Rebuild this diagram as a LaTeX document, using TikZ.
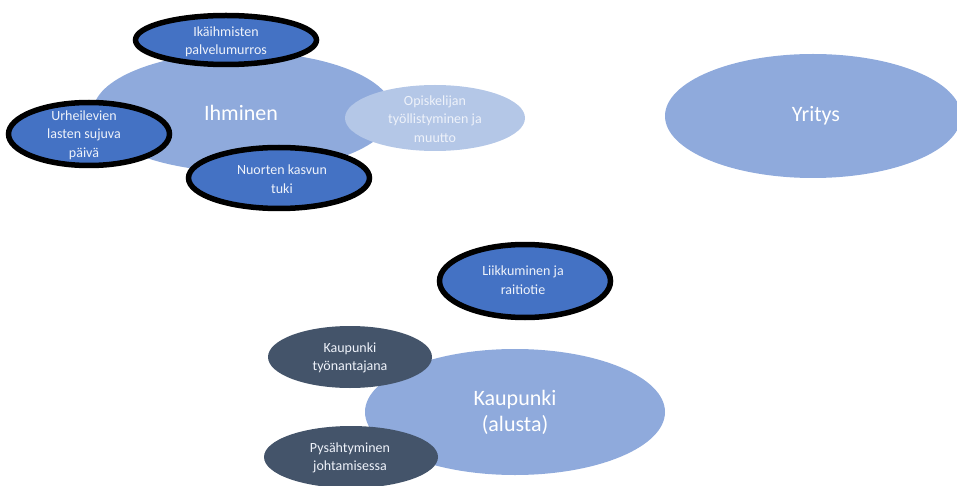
\documentclass[tikz,border=0pt]{standalone}
\usepackage{fontspec}
\setmainfont{Carlito}
\usetikzlibrary{shapes.geometric}
\definecolor{lightb}{HTML}{8FAADC}
\definecolor{midb}{HTML}{4472C4}
\definecolor{paleb}{HTML}{B4C7E7}
\definecolor{darkb}{HTML}{44546A}
\definecolor{offwhite}{HTML}{EEF2FA}
\begin{document}
\begin{tikzpicture}[x=1pt,y=-1pt,
  big/.style={ellipse, fill=lightb, inner sep=0pt},
  topic/.style={ellipse, fill=midb, draw=black, line width=5.5pt, inner sep=0pt},
  pale/.style={ellipse, fill=paleb, inner sep=0pt},
  darkblob/.style={ellipse, fill=darkb, inner sep=0pt},
  bigtxt/.style={text=white, font=\fontsize{22}{26}\selectfont, align=center, inner sep=0pt},
  smalltxt/.style={text=offwhite, font=\fontsize{14}{18.5}\selectfont, align=center, inner sep=0pt}]
\useasboundingbox (0,0) rectangle (957,486);
\begin{scope}
\clip (0,0) rectangle (957,486);
% Ihminen group
\node[big, minimum width=300pt, minimum height=120pt] (ihm) at (243,112) {};
\node[bigtxt] (tihm) at (241,113) {Ihminen};
\node[pale, minimum width=180pt, minimum height=66pt] (opi) at (435,118) {};
\node[smalltxt] (topi) at (435,119) {Opiskelijan\\työllistyminen ja\\muutto};
\node[topic, minimum width=181pt, minimum height=49pt] (ika) at (226,40) {};
\node[smalltxt] (tika) at (226,42) {Ikäihmisten\\palvelumurros};
\node[topic, minimum width=161pt, minimum height=63pt] (urh) at (89,134) {};
\node[smalltxt] (turh) at (84,135) {Urheilevien\\lasten sujuva\\päivä};
\node[topic, minimum width=181pt, minimum height=61pt] (nuo) at (279,178) {};
\node[smalltxt] (tnuo) at (282,179) {Nuorten kasvun\\tuki};
% Yritys
\node[big, minimum width=296pt, minimum height=124pt] (yri) at (813,116) {};
\node[bigtxt] (tyri) at (816,116) {Yritys};
% Liikkuminen
\node[topic, minimum width=171pt, minimum height=73pt] (lii) at (525,281) {};
\node[smalltxt] (tlii) at (523,280) {Liikkuminen ja\\raitiotie};
% Kaupunki group
\node[big, minimum width=300pt, minimum height=126pt] (kau) at (515,412) {};
\node[bigtxt] (tkau) at (515,412) {Kaupunki\\(alusta)};
\node[darkblob, minimum width=164pt, minimum height=62pt] (tyo) at (350,357) {};
\node[smalltxt] (ttyo) at (350,358) {Kaupunki\\työnantajana};
\node[darkblob, minimum width=174pt, minimum height=62pt] (pys) at (351,457) {};
\node[smalltxt] (tpys) at (350,458) {Pysähtyminen\\johtamisessa};
\end{scope}
\end{tikzpicture}
\end{document}
